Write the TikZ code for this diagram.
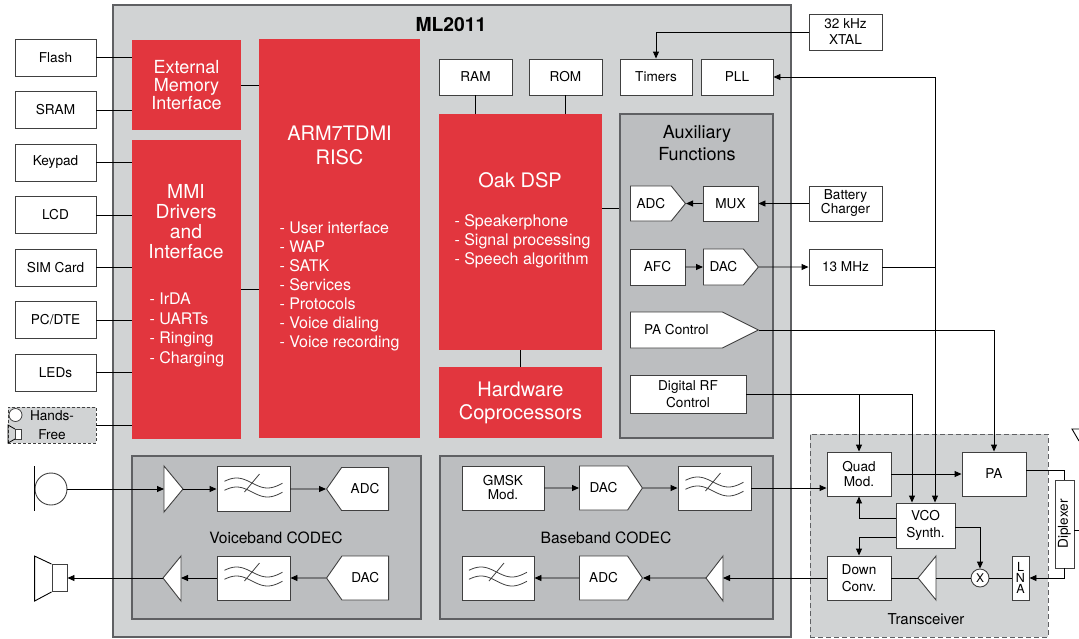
\documentclass[tikz,border=0pt]{standalone}
\usepackage{fontspec}
\setmainfont{TeX Gyre Heros}
\usepackage{xcolor}
\usepackage{tikz}
\usetikzlibrary{positioning,shapes.symbols,arrows.meta}

\definecolor{chipgray}{HTML}{D1D3D4}
\definecolor{blockgray}{HTML}{BCBEC0}
\definecolor{edgegray}{HTML}{5F6063}
\definecolor{armred}{HTML}{E2363E}

\begin{document}
\begin{tikzpicture}[x=1pt,y=-1pt,>={Triangle[length=7pt,width=6pt]},
chip/.style={rectangle,draw=edgegray,fill=chipgray,line width=1.5pt,inner sep=0pt},
block/.style={rectangle,draw=edgegray,fill=blockgray,line width=1.2pt,inner sep=0pt},
core/.style={rectangle,fill=armred,inner sep=0pt,text=white,align=center},
part/.style={rectangle,draw=black!75,fill=white,line width=0.9pt,inner sep=0pt,
align=center,font=\fontsize{13.6}{15.5}\selectfont},
periph/.style={part,minimum width=81pt,minimum height=37pt},
conv/.style={signal,signal from=nowhere,draw=black!75,fill=white,line width=0.9pt,
inner sep=0pt,font=\fontsize{13.6}{15.5}\selectfont},
filter/.style={part,minimum width=73pt,minimum height=45pt,
path picture={\draw[line width=0.8pt,shift={(path picture bounding box.center)}]
plot[domain=-29:29,samples=40,smooth] (\x,{-6-5*sin(5.8*(\x+32.5))})
plot[domain=-29:29,samples=40,smooth] (\x,{3-5*sin(5.8*(\x+32.5))})
(-9,3) -- (6,-15);}},
amp/.style={draw=black!75,fill=white,line width=0.9pt},
wire/.style={line width=0.9pt},
corelist/.style={text=white,align=left,anchor=west,font=\fontsize{16}{19}\selectfont},
blocktitle/.style={font=\fontsize{15.6}{16}\selectfont}]
    \useasboundingbox (0,0) rectangle (1079,638);

    % chip and its blocks
    \node[chip,minimum width=678pt,minimum height=632pt] (ml2011) at (452,321) {};
    \node[font=\bfseries\fontsize{19.3}{20}\selectfont] (ml2011 title) at (451,25) {ML2011};
    \node[block,minimum width=153pt,minimum height=324pt] (aux) at (696.5,276) {};
    \node[align=center,font=\fontsize{18}{22}\selectfont] (aux title) at (697,143) {Auxiliary\\Functions};
    \node[block,minimum width=289pt,minimum height=163pt] (voiceband) at (276.5,537.5) {};
    \node[blocktitle] (voiceband title) at (276,538) {Voiceband CODEC};
    \node[block,minimum width=333pt,minimum height=163pt] (baseband) at (606.5,537.5) {};
    \node[blocktitle] (baseband title) at (606,538) {Baseband CODEC};
    \node[rectangle,draw=edgegray,fill=chipgray,line width=1pt,dash pattern=on 5pt off 3pt,
      minimum width=238pt,minimum height=203pt] (transceiver) at (929,535.5) {};
    \node[font=\fontsize{15}{16}\selectfont] (transceiver title) at (926,619) {Transceiver};

    % red cores
    \node[core,minimum width=109pt,minimum height=90pt,font=\fontsize{18}{18}\selectfont]
      (emi) at (186.5,85) {External\\Memory\\Interface};
    \node[core,minimum width=109pt,minimum height=299pt] (mmi) at (186.5,289.5) {};
    \node[text=white,align=center,font=\fontsize{19.3}{20}\selectfont] (mmi title) at (186,222)
      {MMI\\Drivers\\and\\Interface};
    \node[corelist,font=\fontsize{16}{19.5}\selectfont] (mmi list) at (146,330)
      {- IrDA\\- UARTs\\- Ringing\\- Charging};
    \node[core,minimum width=161pt,minimum height=399pt] (arm) at (339.5,238.5) {};
    \node[text=white,align=center,font=\fontsize{20}{24}\selectfont] (arm title) at (339.5,145)
      {ARM7TDMI\\RISC};
    \node[corelist] (arm list) at (276,286) {- User interface\\- WAP\\- SATK\\- Services\\- Protocols\\- Voice dialing\\- Voice recording};
    \node[core,minimum width=163pt,minimum height=236pt] (dsp) at (520.5,232) {};
    \node[text=white,font=\fontsize{20}{24}\selectfont] (dsp title) at (520,180) {Oak DSP};
    \node[corelist] (dsp list) at (451,241) {- Speakerphone\\- Signal processing\\- Speech algorithm};
    \node[core,minimum width=163pt,minimum height=71pt,font=\fontsize{20}{23}\selectfont]
      (hw) at (520.5,402.5) {Hardware\\Coprocessors};

    % peripherals
    \node[periph] (flash) at (55.5,57.5) {Flash};
    \node[periph] (sram) [below=14.6pt of flash] {SRAM};
    \node[periph] (keypad) [below=14.6pt of sram] {Keypad};
    \node[periph] (lcd) [below=14.6pt of keypad] {LCD};
    \node[periph] (sim) [below=14.6pt of lcd] {SIM Card};
    \node[periph] (pcdte) [below=14.6pt of sim] {PC/DTE};
    \node[periph] (leds) [below=14.6pt of pcdte] {LEDs};
    \node[periph,fill=chipgray,dash pattern=on 3pt off 2pt,minimum width=88pt,minimum height=36pt,
      font=\fontsize{13.6}{19}\selectfont] (handsfree) at (52,425) {Hands-\\Free};
    \draw[amp,line width=0.8pt] (15.5,415) circle (6.5);
    \draw[amp,line width=0.8pt] (15,429) rectangle (21,439);
    \draw[line width=0.8pt] (15,429) -- (8,425) -- (8,443) -- (15,439);

    % memories and clocks
    \node[part,minimum width=73pt,minimum height=36pt] (ram) at (475.5,77) {RAM};
    \node[part,minimum width=73pt,minimum height=36pt] (rom) [right=16.1pt of ram] {ROM};
    \node[part,minimum width=72pt,minimum height=36pt] (timers) [right=17.1pt of rom] {Timers};
    \node[part,minimum width=72pt,minimum height=36pt] (pll) [right=8.1pt of timers] {PLL};
    \node[part,minimum width=73pt,minimum height=36pt,font=\fontsize{13.6}{16}\selectfont]
      (xtal) at (845.5,32) {32 kHz\\XTAL};

    % auxiliary functions
    \node[conv,signal to=east,signal pointer angle=102,minimum width=55pt,minimum height=35pt,
      anchor=west] (aux adc) at (630,203.5) {ADC};
    \node[part,minimum width=55pt,minimum height=35pt] (mux) at (730.5,203.5) {MUX};
    \node[part,minimum width=73pt,minimum height=35pt,font=\fontsize{13.6}{14}\selectfont]
      (battery) at (845.5,203.5) {Battery\\Charger};
    \node[part,minimum width=55pt,minimum height=36pt] (afc) at (657.5,267) {AFC};
    \node[conv,signal to=east,signal pointer angle=100,minimum width=55pt,minimum height=36pt,
      anchor=west] (aux dac) at (703,267) {DAC};
    \node[part,minimum width=73pt,minimum height=36pt] (osc13) at (845.5,267) {13 MHz};
    \node[conv,signal to=east,signal pointer angle=53,minimum width=128pt,minimum height=36pt,
      anchor=west] (pa ctrl) at (630,330) {PA Control};
    \node[part,minimum width=116pt,minimum height=38pt,font=\fontsize{13.6}{17}\selectfont]
      (rf ctrl) at (688,394) {Digital RF\\Control};

    % voiceband codec
    \node[circle,draw=black!75,line width=0.9pt,minimum size=32pt,inner sep=0pt] (mic) at (51,489) {};
    \draw[wire] ([yshift=23pt]mic.west) -- ([yshift=-22pt]mic.west);
    \coordinate (vb amp tx) at (164,489);
    \draw[amp] (vb amp tx) -- ++(0,-23) -- ++(19,23) -- ++(-19,23) -- cycle;
    \node[filter] (vb filt tx) at (253.5,489) {};
    \node[conv,signal to=west,signal pointer angle=110,minimum width=62pt,minimum height=43pt,
      anchor=east] (vb adc) at (389,489) {ADC};
    \node[conv,signal to=west,signal pointer angle=110,minimum width=62pt,minimum height=44pt,
      anchor=east] (vb dac) at (389,578) {DAC};
    \node[filter,minimum height=44pt] (vb filt rx) at (253.5,578) {};
    \coordinate (vb amp rx) at (163,578);
    \draw[amp] (vb amp rx) -- ++(18,-22) -- ++(0,45) -- cycle;
    \node[rectangle,draw=black!75,fill=white,line width=0.9pt,minimum width=15pt,minimum height=27pt,
      inner sep=0pt] (speaker) at (59.5,578) {};
    \draw[wire] (speaker.north west) -- ++(-17,-8) -- ++(0,45) -- (speaker.south west);

    % baseband codec
    \node[part,minimum width=82pt,minimum height=44pt,font=\fontsize{13.6}{14}\selectfont]
      (gmsk) at (503,488) {GMSK\\Mod.};
    \node[conv,signal to=east,signal pointer angle=112,minimum width=63pt,minimum height=44pt,
      anchor=west] (bb dac) at (579,488) {DAC};
    \node[filter,minimum height=44pt] (bb filt tx) at (714.5,488) {};
    \node[filter,minimum width=72pt,minimum height=44pt] (bb filt rx) at (498,578) {};
    \node[conv,signal to=east,signal pointer angle=112,minimum width=63pt,minimum height=44pt,
      anchor=west] (bb adc) at (579,578) {ADC};
    \coordinate (bb amp) at (706,578);
    \draw[amp] (bb amp) -- ++(17,-22) -- ++(0,45) -- cycle;

    % transceiver
    \node[part,minimum width=64pt,minimum height=44pt,font=\fontsize{13.6}{15}\selectfont]
      (quad) at (859,474) {Quad\\Mod.};
    \node[part,minimum width=64pt,minimum height=44pt] (pa) at (994,474) {PA};
    \node[part,minimum width=59pt,minimum height=45pt,font=\fontsize{13.6}{17}\selectfont]
      (vco) at (925.5,525.5) {VCO\\Synth.};
    \node[part,minimum width=64pt,minimum height=44pt,font=\fontsize{13.6}{17}\selectfont]
      (down) at (859,578) {Down\\Conv.};
    \coordinate (rx amp) at (918,578);
    \draw[amp] (rx amp) -- ++(18,-22) -- ++(0,44) -- cycle;
    \node[circle,draw=black!75,fill=white,line width=0.9pt,minimum size=18pt,inner sep=0pt,
      font=\fontsize{12}{12}\selectfont] (mixer) at (980,578) {X};
    \node[part,minimum width=17pt,minimum height=44pt,font=\fontsize{12.5}{11}\selectfont]
      (lna) at (1020.5,578) {L\\N\\A};
    \node[part,minimum width=19pt,minimum height=88pt] (diplexer) at (1064.5,524) {\rotatebox{90}{Diplexer}};
    \coordinate (antenna) at (1079,530);
    \draw[wire] (1079,429) -- (1072,429) -- (1079,441);

    % connections on the left
    \draw[wire] (flash.east) -- (flash.east -| emi.west);
    \draw[wire] (sram.east) -- (sram.east -| emi.west);
    \draw[wire] (keypad.east) -- (keypad.east -| mmi.west);
    \draw[wire] (lcd.east) -- (lcd.east -| mmi.west);
    \draw[wire] (sim.east) -- (sim.east -| mmi.west);
    \draw[wire] (pcdte.east) -- (pcdte.east -| mmi.west);
    \draw[wire] (leds.east) -- (leds.east -| mmi.west);
    \draw[wire] (handsfree.east) -- (handsfree.east -| mmi.west);
    \draw[wire] (emi.east) -- (emi.east -| arm.west);
    \draw[wire] (mmi.east) -- (mmi.east -| arm.west);
    \draw[wire] (ram) -- (ram |- dsp.north);
    \draw[wire] (rom) -- (rom |- dsp.north);
    \draw[wire] (dsp) -- (hw);
    \coordinate (dsp port) at ([yshift=24pt]dsp.east);
    \draw[wire] (dsp port) -- (dsp port -| aux.west);

    % clocks and auxiliary
    \draw[wire,->] (xtal.west) -| (timers.north);
    \draw[wire,->] (battery) -- (mux);
    \draw[wire,->] (mux) -- (aux adc);
    \draw[wire,->] (afc) -- (aux dac);
    \draw[wire,->] (aux dac) -- (osc13);
    \coordinate (clk split) at (935,267);
    \draw[wire] (osc13) -- (clk split);
    \draw[wire,->] (clk split) |- (pll);
    \draw[wire,->] (clk split) -- (clk split |- vco.north);
    \draw[wire,->] (pa ctrl.east) -| (pa.north);
    \draw[wire,->] (rf ctrl.east) -| ([xshift=-13.5pt]vco.north);
    \draw[wire,->] (rf ctrl.east -| quad.north) -- (quad.north);

    % codecs
    \draw[wire,->] (mic) -- (vb amp tx);
    \draw[wire,->] ([xshift=19pt]vb amp tx) -- (vb filt tx);
    \draw[wire,->] (vb filt tx) -- (vb adc);
    \draw[wire,->] (vb dac) -- (vb filt rx);
    \draw[wire,->] (vb filt rx) -- ([xshift=18pt]vb amp rx);
    \draw[wire,->] (vb amp rx) -- (speaker);
    \draw[wire,->] (gmsk) -- (bb dac);
    \draw[wire,->] (bb dac) -- (bb filt tx);
    \draw[wire,->] (bb filt tx) -- (bb filt tx -| quad.west);
    \draw[wire,->] (down) -- ([xshift=17pt]bb amp);
    \draw[wire,->] (bb amp) -- (bb adc);
    \draw[wire,->] (bb adc) -- (bb filt rx);

    % transceiver
    \draw[wire,->] (quad) -- (pa);
    \coordinate (pa port) at ([yshift=4pt]pa.east);
    \draw[wire] (pa port) -| (diplexer.north);
    \draw[wire,->] (diplexer.south) |- (lna.east);
    \draw[wire] (diplexer.east |- antenna) -- (antenna);
    \draw[wire] (lna) -- (mixer);
    \draw[wire] (mixer) -- ([xshift=18pt]rx amp);
    \draw[wire] (rx amp) -- (down);
    \draw[wire,->] ([yshift=-1.5pt]vco.east) -| (mixer.north);
    \draw[wire,->] ([yshift=7.5pt]vco.west) -| (quad.south);
    \draw[wire,->] ([yshift=-11.5pt]vco.west) -| (down.north);
\end{tikzpicture}
\end{document}
